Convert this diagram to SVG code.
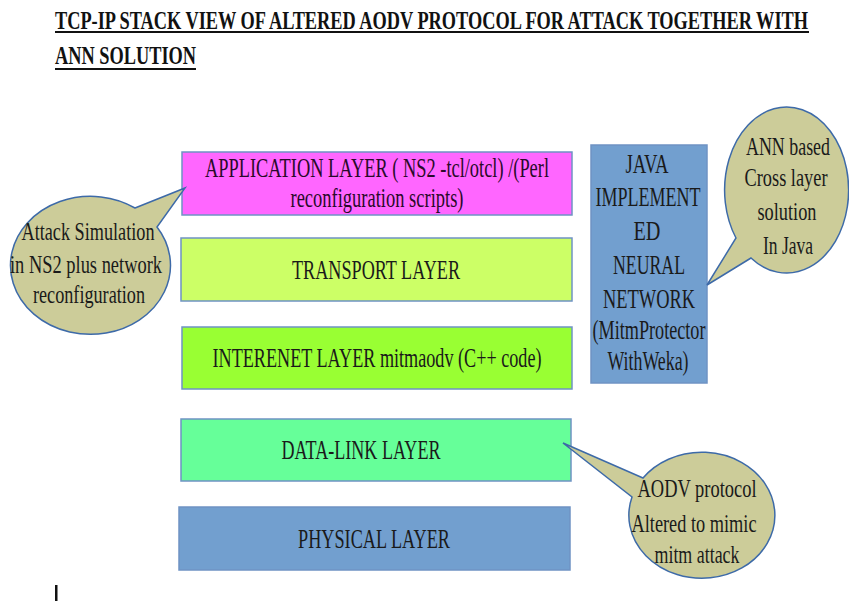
<svg xmlns="http://www.w3.org/2000/svg" width="849" height="602" viewBox="0 0 849 602">
  <style>
    .title { font-family: "Liberation Serif", "DejaVu Serif", serif; font-weight: bold; font-size: 25px; fill: #111; }
    .lbl { font-family: "Liberation Serif", "DejaVu Serif", serif; font-size: 28px; fill: #1a1a1a; text-anchor: middle; }
    .side { font-size: 27px; }
    .note { font-size: 26px; }
    .box { stroke: #6f93c4; stroke-width: 1.5; }
    .callout { fill: #cccc99; stroke: #3d6aa8; stroke-width: 1.5; }
  </style>

  <!-- heading -->
  <g id="heading">
    <text class="title" x="55" y="29" textLength="753" lengthAdjust="spacingAndGlyphs">TCP-IP STACK VIEW OF ALTERED AODV PROTOCOL FOR ATTACK TOGETHER WITH</text>
    <rect x="55" y="31" width="754" height="2" fill="#111"/>
    <text class="title" x="55" y="64" textLength="141" lengthAdjust="spacingAndGlyphs">ANN SOLUTION</text>
    <rect x="55" y="68" width="141" height="2" fill="#111"/>
  </g>

  <!-- protocol stack -->
  <g id="application-layer">
    <rect class="box" x="182" y="152" width="390" height="63" fill="#ff66ff"/>
    <text class="lbl" x="377" y="177" textLength="344" lengthAdjust="spacingAndGlyphs" style="fill:#2a0a2a">APPLICATION LAYER ( NS2 -tcl/otcl) /(Perl</text>
    <text class="lbl" x="377" y="207" textLength="173" lengthAdjust="spacingAndGlyphs" style="fill:#2a0a2a">reconfiguration scripts)</text>
  </g>
  <g id="transport-layer">
    <rect class="box" x="181" y="238" width="391" height="63" fill="#ccff66"/>
    <text class="lbl" x="376" y="279" textLength="168" lengthAdjust="spacingAndGlyphs">TRANSPORT LAYER</text>
  </g>
  <g id="internet-layer">
    <rect class="box" x="182" y="327" width="390" height="62" fill="#99ff33"/>
    <text class="lbl" x="377" y="367" textLength="329" lengthAdjust="spacingAndGlyphs">INTERENET LAYER mitmaodv (C++ code)</text>
  </g>
  <g id="data-link-layer">
    <rect class="box" x="181" y="419" width="390" height="62" fill="#66ff99"/>
    <text class="lbl" x="361" y="459" textLength="159" lengthAdjust="spacingAndGlyphs">DATA-LINK LAYER</text>
  </g>
  <g id="physical-layer">
    <rect class="box" x="179" y="507" width="391" height="63" fill="#729fcf"/>
    <text class="lbl" x="374" y="548" textLength="152" lengthAdjust="spacingAndGlyphs">PHYSICAL LAYER</text>
  </g>

  <!-- neural network module -->
  <g id="java-neural-network">
    <rect class="box" x="591" y="145" width="116" height="238" fill="#729fcf"/>
    <text class="lbl side" x="647" y="173" textLength="43" lengthAdjust="spacingAndGlyphs">JAVA</text>
    <text class="lbl side" x="648" y="206" textLength="105" lengthAdjust="spacingAndGlyphs">IMPLEMENT</text>
    <text class="lbl side" x="647" y="240" textLength="27" lengthAdjust="spacingAndGlyphs">ED</text>
    <text class="lbl side" x="649" y="274" textLength="72" lengthAdjust="spacingAndGlyphs">NEURAL</text>
    <text class="lbl side" x="649" y="308" textLength="92" lengthAdjust="spacingAndGlyphs">NETWORK</text>
    <text class="lbl side" x="649" y="339" textLength="113" lengthAdjust="spacingAndGlyphs">(MitmProtector</text>
    <text class="lbl side" x="648" y="370" textLength="81" lengthAdjust="spacingAndGlyphs">WithWeka)</text>
  </g>

  <!-- callouts (ellipse with pointer tail) -->
  <g id="callout-attack-simulation">
    <path class="callout" d="M135,208 L185,188 L157,227 A80,69 0 1 1 135,208 Z"/>
    <text class="lbl note" x="88" y="240" textLength="133" lengthAdjust="spacingAndGlyphs">Attack Simulation</text>
    <text class="lbl note" x="86" y="273" textLength="152" lengthAdjust="spacingAndGlyphs">in NS2 plus network</text>
    <text class="lbl note" x="89" y="303" textLength="112" lengthAdjust="spacingAndGlyphs">reconfiguration</text>
  </g>
  <g id="callout-ann">
    <path class="callout" d="M751,258 L707,285 L736,238 A62,83 0 1 1 751,258 Z"/>
    <text class="lbl note" x="788" y="155" textLength="84" lengthAdjust="spacingAndGlyphs">ANN based</text>
    <text class="lbl note" x="786" y="186" textLength="83" lengthAdjust="spacingAndGlyphs">Cross layer</text>
    <text class="lbl note" x="787" y="220" textLength="59" lengthAdjust="spacingAndGlyphs">solution</text>
    <text class="lbl note" x="788" y="254" textLength="50" lengthAdjust="spacingAndGlyphs">In Java</text>
  </g>
  <g id="callout-aodv">
    <path class="callout" d="M643,478 L563,443 L632,497 A73,63 0 1 0 643,478 Z"/>
    <text class="lbl note" x="697" y="497" textLength="119" lengthAdjust="spacingAndGlyphs">AODV protocol</text>
    <text class="lbl note" x="694" y="532" textLength="125" lengthAdjust="spacingAndGlyphs">Altered to mimic</text>
    <text class="lbl note" x="697" y="563" textLength="85" lengthAdjust="spacingAndGlyphs">mitm attack</text>
  </g>

  <!-- small mark at lower left -->
  <rect x="55" y="585" width="2.5" height="16" fill="#111"/>

  <g id="connectors"/>
</svg>
